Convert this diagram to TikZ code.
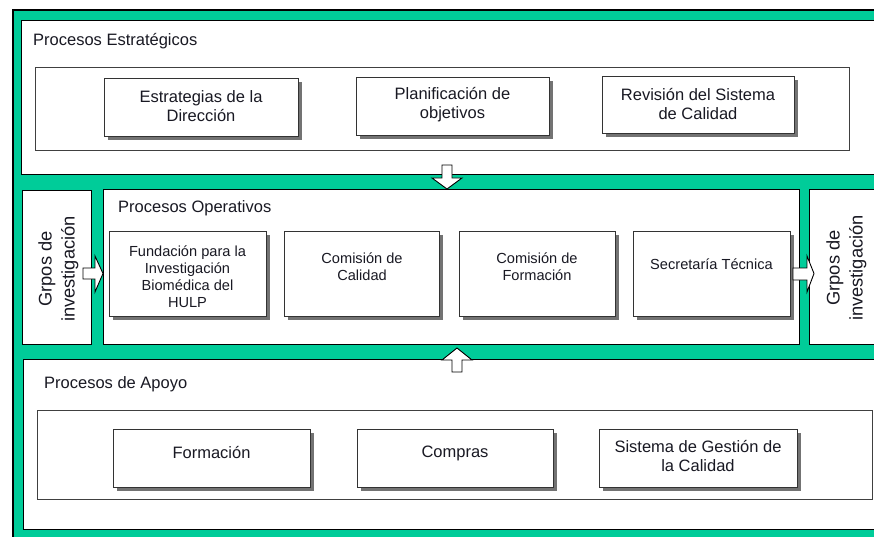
\documentclass[tikz,border=0pt]{standalone}
\usepackage{fontspec}
\setmainfont{Liberation Sans}
\usetikzlibrary{shadows}
\definecolor{pgreen}{RGB}{0,204,153}
\definecolor{txtc}{RGB}{25,25,35}
\tikzset{
  panel/.style={draw=black, line width=1pt, fill=white},
  inbox/.style={draw=black!75, line width=1pt},
  pbox/.style={rectangle, draw=black!80, line width=1pt, fill=white, inner sep=0pt,
    drop shadow={shadow xshift=3.5pt, shadow yshift=-3.5pt, fill=black!55, opacity=1}},
  bigtxt/.style={text=txtc, align=center, inner sep=0pt, font=\fontsize{16.5}{19}\selectfont},
  smalltxt/.style={text=txtc, align=center, inner sep=0pt, font=\fontsize{14.6}{17}\selectfont},
  grptxt/.style={text=txtc, align=center, inner sep=0pt, rotate=90, font=\fontsize{18.3}{23}\selectfont},
  header/.style={text=txtc, anchor=base west, inner sep=0pt, font=\fontsize{16.5}{19}\selectfont},
  blockarrow/.style={draw=black, line width=0.9pt, fill=white, line join=miter}
}
\begin{document}
\begin{tikzpicture}[x=1pt,y=-1pt]
\useasboundingbox (0,0) rectangle (874,537);
\clip (0,0) rectangle (874,537);
% green frame
\draw[fill=pgreen, draw=black, line width=1.2pt] (13,10) rectangle (900,560);
% panels
\draw[panel] (21,21) rectangle (900,175);
\draw[panel] (22,191) rectangle (91,344);
\draw[panel] (103,190) rectangle (799,344);
\draw[panel] (809,190) rectangle (900,344);
\draw[panel] (23,359) rectangle (900,529);
% inner frames
\draw[inbox] (35,68) rectangle (849,151);
\draw[inbox] (37,410) rectangle (872,499);
% headers
\node[header] (hE) at (33,46) {Procesos Estratégicos};
\node[header] (hO) at (118,212.5) {Procesos Operativos};
\node[header] (hA) at (44,388) {Procesos de Apoyo};
% strategic boxes
\node[pbox, minimum width=194, minimum height=58] (estr) at (201,108) {};
\node[pbox, minimum width=193, minimum height=58] (plan) at (452.5,107) {};
\node[pbox, minimum width=192, minimum height=57] (rev) at (698,105.5) {};
\node[bigtxt] (testr) at (201,106.5) {Estrategias de la\\Dirección};
\node[bigtxt] (tplan) at (452.5,104.5) {Planificación de\\objetivos};
\node[bigtxt] (trev) at (698,104) {Revisión del Sistema\\de Calidad};
% operative boxes
\node[pbox, minimum width=157, minimum height=85] (fund) at (187.5,273.5) {};
\node[pbox, minimum width=155, minimum height=85] (ccal) at (361.5,273.5) {};
\node[pbox, minimum width=156, minimum height=85] (cfor) at (537,273.5) {};
\node[pbox, minimum width=157, minimum height=85] (secr) at (711.5,273.5) {};
\node[smalltxt] (tfund) at (187.5,276.5) {Fundación para la\\Investigación\\Biomédica del\\HULP};
\node[smalltxt] (tccal) at (362,266.5) {Comisión de\\Calidad};
\node[smalltxt] (tcfor) at (537,266.5) {Comisión de\\Formación};
\node[smalltxt] (tsecr) at (711.5,264) {Secretaría Técnica};
% research groups
\node[grptxt] (gl) at (58.5,269) {Grpos de\\investigación};
\node[grptxt] (gr) at (846.5,268) {Grpos de\\investigación};
% support boxes
\node[pbox, minimum width=197, minimum height=58] (form) at (211.5,458) {};
\node[pbox, minimum width=196, minimum height=58] (comp) at (455,458) {};
\node[pbox, minimum width=198, minimum height=58] (sgc) at (698,458) {};
\node[bigtxt] (tform) at (211.5,453) {Formación};
\node[bigtxt] (tcomp) at (455,453) {Compras};
\node[bigtxt] (tsgc) at (698,456.5) {Sistema de Gestión de\\la Calidad};
% block arrows
\draw[blockarrow] (442,165) -- (452,165) -- (452,178) -- (462,178) -- (447,189) -- (432,178) -- (442,178) -- cycle;
\draw[blockarrow] (452,372) -- (462,372) -- (462,360) -- (472,360) -- (457,348) -- (442,360) -- (452,360) -- cycle;
\draw[blockarrow] (83,268) -- (95,268) -- (95,256) -- (103,273.5) -- (95,292) -- (95,279) -- (83,279) -- cycle;
\draw[blockarrow] (793,268) -- (807,268) -- (807,256) -- (814,273.5) -- (807,292) -- (807,280) -- (793,280) -- cycle;
\end{tikzpicture}
\end{document}
